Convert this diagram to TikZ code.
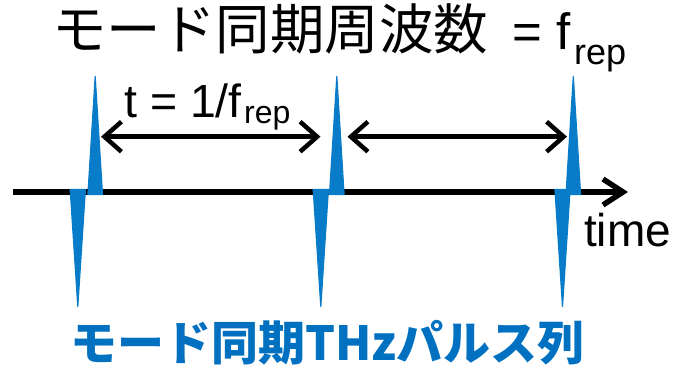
\documentclass[tikz,border=0pt]{standalone}
\usepackage{fontspec}
\setmainfont{Liberation Sans}
\newfontfamily\jp{Noto Sans CJK JP}
\usetikzlibrary{arrows.meta}
\definecolor{pulseblue}{RGB}{8,124,200}
\definecolor{textblue}{RGB}{0,112,192}
\tikzset{
  pulse/.style={fill=pulseblue, draw=pulseblue, line width=1.2pt, line join=round},
  axisline/.style={line width=5.5pt, -{Straight Barb[length=20pt,width=26pt]}},
  period/.style={line width=4.5pt, {Straight Barb[length=17pt,width=30pt]}-{Straight Barb[length=17pt,width=30pt]}},
  lbl/.style={inner sep=0pt, anchor=base west},
}
\begin{document}
\begin{tikzpicture}[x=1pt,y=-1pt]
\useasboundingbox (0,0) rectangle (677,371);
% time axis
\coordinate (axL) at (13,192);
\coordinate (axR) at (628,192);
\draw[axisline] (axL) -- (axR);
% pulses
\foreach \n/\ux/\dx in {1/95.2/77.8, 2/336.8/320.8, 3/573.3/562.5}{
  \fill[pulse] (\ux-7.3,194.5) -- (\ux,76.5) -- (\ux+7.3,194.5) -- cycle;
  \fill[pulse] (\dx-7.6,189.5) -- (\dx,306.5) -- (\dx+7.6,189.5) -- cycle;
}
% period arrows
\coordinate (a1) at (101,136.7);
\coordinate (b1) at (320.5,136.7);
\coordinate (a2) at (347.5,136.7);
\coordinate (b2) at (567,136.7);
\draw[period] (a1) -- (b1);
\draw[period] (a2) -- (b2);
% texts
\node[lbl] (title) at (52,50) {\fontsize{54.5}{60}\selectfont\jp モード同期周波数};
\node[lbl] (eqf) at (512,50) {\fontsize{51}{60}\selectfont = f};
\node[lbl] (rep1) at (574,65) {\fontsize{36}{40}\selectfont rep};
\node[lbl] (tlab) at (124,118) {\fontsize{46.5}{50}\selectfont t = 1/f};
\node[lbl] (rep2) at (244,124) {\fontsize{32}{36}\selectfont rep};
\node[lbl] (time) at (584,247) {\fontsize{46}{50}\selectfont time};
\node[lbl, text=textblue] (train) at (70,360) {\fontsize{47}{50}\selectfont\jp\bfseries モード同期THzパルス列};
\end{tikzpicture}
\end{document}
